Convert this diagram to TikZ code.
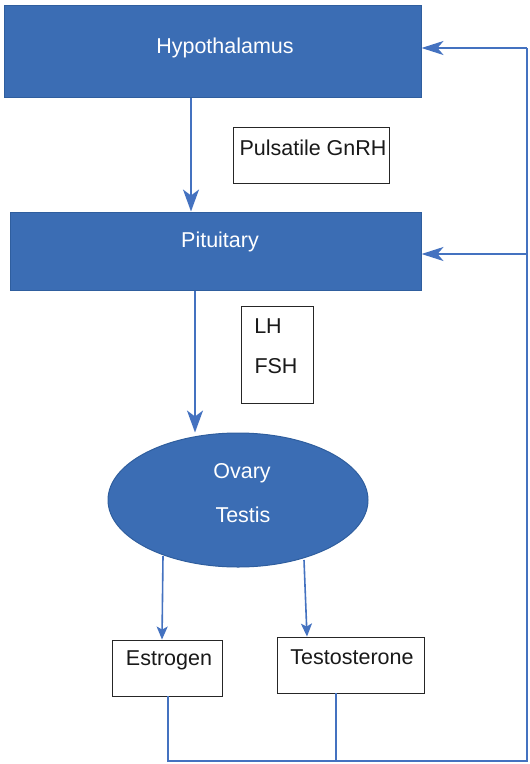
\documentclass[tikz,border=0pt]{standalone}
\usepackage{fontspec}
\setmainfont{Liberation Sans}
\usetikzlibrary{arrows.meta,shapes.geometric}
\definecolor{organblue}{HTML}{3B6DB4}
\definecolor{organedge}{HTML}{2F5E9E}
\definecolor{linkblue}{HTML}{4472C0}
\tikzset{
  organ/.style={draw=organedge, line width=1pt, fill=organblue, inner sep=0pt},
  hormonebox/.style={draw=black!85, line width=0.9pt, fill=white, inner sep=0pt},
  whitetext/.style={text=white, font=\fontsize{21.5}{25}\selectfont, inner sep=0pt},
  blacktext/.style={text=black!90, font=\fontsize{21.5}{25}\selectfont, inner sep=0pt},
  flow/.style={draw=linkblue, line width=1.8pt, -{Stealth[length=22pt,width=16pt,inset=6pt]}},
  smallflow/.style={draw=linkblue, line width=1.6pt, -{Stealth[length=13pt,width=11pt,inset=3pt]}},
  feedback/.style={draw=linkblue, line width=1.8pt},
  feedbackarrow/.style={draw=linkblue, line width=1.8pt, -{Stealth[length=22pt,width=14pt,inset=6pt]}},
}
\begin{document}
\begin{tikzpicture}[x=1pt,y=-1pt]
\useasboundingbox (0,0) rectangle (530,764);

% organs
\node[organ, minimum width=417pt, minimum height=92pt] (hypo) at (212.5,51) {};
\node[whitetext] (hypotext) at (225,48) {Hypothalamus};
\node[organ, minimum width=411pt, minimum height=78pt] (pit) at (215.5,251) {};
\node[whitetext] (pittext) at (220,242) {Pituitary};
\node[organ, ellipse, minimum width=260pt, minimum height=134pt] (gonad) at (238,500) {};
\node[whitetext] (ovary) at (242,473) {Ovary};
\node[whitetext] (testis) at (243,515) {Testis};

% hormone labels
\node[hormonebox, minimum width=156pt, minimum height=56pt] (gnrh) at (311,155) {};
\node[blacktext] (gnrhtext) at (313,148) {Pulsatile GnRH};
\node[hormonebox, minimum width=72pt, minimum height=97pt] (lhfsh) at (277,354.5) {};
\node[blacktext] (lh) at (268,326) {LH};
\node[blacktext] (fsh) at (276,366) {FSH};

% sex steroids
\node[hormonebox, minimum width=110pt, minimum height=56pt] (estr) at (167,668) {};
\node[blacktext] (estrtext) at (169,660) {Estrogen};
\node[hormonebox, minimum width=147pt, minimum height=56pt] (testo) at (350.5,665) {};
\node[blacktext] (testotext) at (352,657) {Testosterone};

% axis arrows
\draw[flow] (hypo.south -| 191,0) -- (pit.north -| 191,0);
\draw[flow] (pit.south -| 195,0) -- (gonad.north -| 195,0);
\coordinate (e1) at (163,556);
\coordinate (t1) at (304,560);
\draw[smallflow] (e1) -- (estr.north -| 162,0);
\draw[smallflow] (t1) -- (testo.north -| 307,0);

% negative feedback loop
\coordinate (eb) at (168,761);
\coordinate (tb) at (336,761);
\coordinate (rb) at (527,761);
\coordinate (rt) at (527,48);
\coordinate (rp) at (527,254);
\draw[feedback] (estr.south -| eb) -- (eb) -- (rb) -- (rt);
\draw[feedback] (testo.south -| tb) -- (tb);
\draw[feedbackarrow] (rt) -- (hypo.east |- rt);
\draw[feedbackarrow] (rp) -- (pit.east |- rp);
\end{tikzpicture}
\end{document}
